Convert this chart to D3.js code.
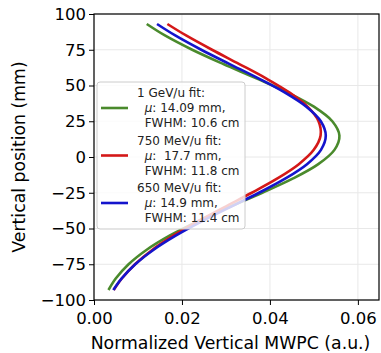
<!DOCTYPE html>
<html>
<head>
<meta charset="utf-8">
<script src="https://cdn.jsdelivr.net/npm/d3@7"></script>
<style>
  body { margin: 0; background: #fff; }
  text { font-family: "DejaVu Sans", sans-serif; }
</style>
</head>
<body>
<div class="canvas"></div>
<script>
// vertical positions (mm) where the curves were read
const positions = [-93, -85, -75, -65, -55, -45, -35, -25, -15, -5, 5, 15, 25, 35, 45, 55, 65, 75, 85, 93];

// normalized vertical MWPC values
const gev1 = [0.00329, 0.00494, 0.00786, 0.01191, 0.01717, 0.02357, 0.03078, 0.03826, 0.04528, 0.05100,
              0.05467, 0.05580, 0.05418, 0.05009, 0.04408, 0.03691, 0.02942, 0.02233, 0.01612, 0.01199];
const mev750 = [0.00449, 0.00631, 0.00932, 0.01321, 0.01801, 0.02358, 0.02968, 0.03588, 0.04170, 0.04657,
                0.04997, 0.05152, 0.05105, 0.04861, 0.04448, 0.03911, 0.03304, 0.02683, 0.02093, 0.01668];
const mev650 = [0.00439, 0.00626, 0.00939, 0.01349, 0.01857, 0.02451, 0.03097, 0.03752, 0.04355, 0.04843,
                0.05161, 0.05270, 0.05157, 0.04835, 0.04343, 0.03739, 0.03085, 0.02438, 0.01846, 0.01433];

const seriesLabels = [
    ["1 GeV/u fit:", "  μ: 14.09 mm,", "  FWHM: 10.6 cm"],
    ["750 MeV/u fit:", "  μ:  17.7 mm,", "  FWHM: 11.8 cm"],
    ["650 MeV/u fit:", "  μ: 14.9 mm,", "  FWHM: 11.4 cm"]
];
const xTicks = [0, 0.02, 0.04, 0.06];
const yTicks = [-100, -75, -50, -25, 0, 25, 50, 75, 100];

const series = [
    { values: gev1, color: '#4a8a2c', label: seriesLabels[0] },
    { values: mev750, color: '#d41818', label: seriesLabels[1] },
    { values: mev650, color: '#1414cc', label: seriesLabels[2] }
];

const width = 381, height = 353;
const margin = { top: 14, right: 2, bottom: 53, left: 94 };
const graphWidth = width - margin.left - margin.right;
const graphHeight = height - margin.top - margin.bottom;

const svg = d3.select('.canvas').append('svg')
    .attr('width', width)
    .attr('height', height)

const graph = svg.append('g')
    .attr('transform', `translate(${margin.left}, ${margin.top})`)

const x = d3.scaleLinear().domain([0, 0.0648]).range([0, graphWidth])
const y = d3.scaleLinear().domain([-100, 100]).range([graphHeight, 0])

// grid
graph.append('g').selectAll('line')
    .data(xTicks)
    .enter().append('line')
    .attr('x1', d => x(d)).attr('x2', d => x(d))
    .attr('y1', 0).attr('y2', graphHeight)
    .attr('stroke', '#e8e8e8').attr('stroke-width', 1)

graph.append('g').selectAll('line')
    .data(yTicks)
    .enter().append('line')
    .attr('x1', 0).attr('x2', graphWidth)
    .attr('y1', d => y(d)).attr('y2', d => y(d))
    .attr('stroke', '#e8e8e8').attr('stroke-width', 1)

// curves
const line = d3.line()
    .x(d => x(d[0]))
    .y(d => y(d[1]))
    .curve(d3.curveCatmullRom)

graph.selectAll('.curve')
    .data(series)
    .enter().append('path')
    .attr('class', 'curve')
    .attr('d', s => line(s.values.map((v, i) => [v, positions[i]])))
    .attr('fill', 'none')
    .attr('stroke', s => s.color)
    .attr('stroke-width', 2.6)

// axes
const xAxis = d3.axisBottom(x).tickValues(xTicks).tickFormat(d3.format('.2f')).tickSize(5).tickSizeOuter(0)
const yAxis = d3.axisLeft(y).tickValues(yTicks).tickFormat(d => d < 0 ? '\u2212' + Math.abs(d) : d).tickSize(5).tickSizeOuter(0)

const xAxisGroup = graph.append('g').attr('transform', `translate(0, ${graphHeight})`).call(xAxis)
const yAxisGroup = graph.append('g').call(yAxis)

;[xAxisGroup, yAxisGroup].forEach(g => {
    g.select('.domain').remove()
    g.selectAll('line').attr('stroke', '#000').attr('stroke-width', 1)
    g.selectAll('text').attr('font-size', 16.5).attr('fill', '#000')
        .style('font-family', '"DejaVu Sans", sans-serif')
})
xAxisGroup.selectAll('text').attr('dy', '0.95em').attr('y', 8)
yAxisGroup.selectAll('text').attr('x', -8)

// frame
graph.append('rect')
    .attr('width', graphWidth).attr('height', graphHeight)
    .attr('fill', 'none').attr('stroke', '#000').attr('stroke-width', 1.2)

// axis labels
svg.append('text')
    .attr('x', margin.left + graphWidth / 2 - 6)
    .attr('y', 349)
    .attr('text-anchor', 'middle')
    .attr('font-size', 17.3)
    .text('Normalized Vertical MWPC (a.u.)')

svg.append('text')
    .attr('transform', `translate(25, ${margin.top + graphHeight / 2}) rotate(-90)`)
    .attr('text-anchor', 'middle')
    .attr('font-size', 17.3)
    .text('Vertical position (mm)')

// legend
const legend = svg.append('g').attr('transform', 'translate(97, 82)')
legend.append('rect')
    .attr('width', 148).attr('height', 147).attr('rx', 3)
    .attr('fill', 'rgba(255,255,255,0.8)').attr('stroke', '#cccccc').attr('stroke-width', 1)

const items = legend.selectAll('.item')
    .data(series)
    .enter().append('g')
    .attr('class', 'item')
    .attr('transform', (d, i) => `translate(0, ${i * 47.5})`)

items.append('line')
    .attr('x1', 4).attr('x2', 31)
    .attr('y1', 26).attr('y2', 26)
    .attr('stroke', d => d.color).attr('stroke-width', 2.6)

items.each(function (d) {
    const t = d3.select(this).append('text')
        .attr('x', 40).attr('y', 15)
        .attr('font-size', 12).attr('fill', '#222')
        .style('white-space', 'pre')
    d.label.forEach((l, j) => {
        t.append('tspan').attr('x', 40).attr('dy', j === 0 ? 0 : 15)
            .html(l.replace('μ', '<tspan font-style="italic">μ</tspan>'))
    })
})
</script>
</body>
</html>
